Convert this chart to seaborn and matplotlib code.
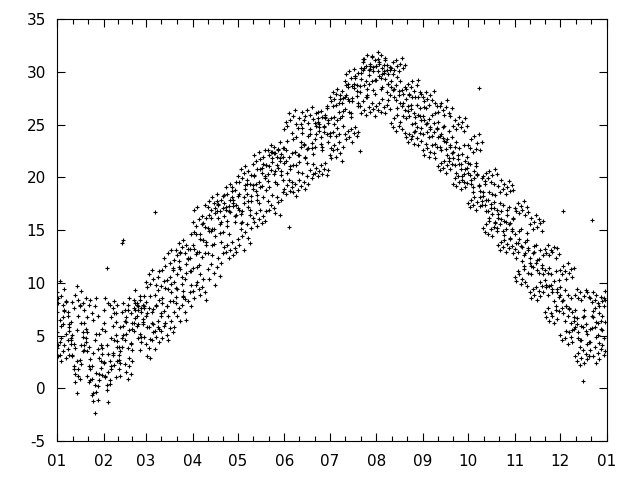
import pandas as pd
import seaborn as sns
import matplotlib.pyplot as plt
import matplotlib.dates as mdates

# daily temperatures, four seasons laid over one calendar year
temps_a = [
    7.2, 8.1, 6.5, 5.9, 6.8, 7.4, 5.2, 4.6, 5.8, 6.3, 5.1, 4.2, 3.8, 5.5, 6.9, 7.8, 6.2, 4.9, 3.6, 4.4,
    5.3, 3.9, 2.8, 2.1, 3.4, 4.6, 5.2, 3.7, 2.9, 4.1, 5.6,
    6.2, 5.4, 4.1, 3.3, 2.6, 4.8, 5.9, 7.1, 6.3, 4.5, 3.2, 2.4, 3.9, 5.1, 4.6, 6.8, 7.4, 5.5, 4.2, 3.6,
    5.4, 6.7, 7.9, 6.1, 5.2, 4.4, 6.6, 7.8,
    6.9, 5.8, 7.6, 8.8, 7.2, 6.1, 5.4, 7.9, 9.3, 8.4, 7.1, 8.6, 10.2, 9.5, 7.8, 6.9, 8.3, 9.9, 11.2, 10.1,
    8.7, 9.4, 11.5, 12.8, 10.6, 9.2, 8.5, 10.9, 12.3, 11.1, 9.8,
    11.4, 13.2, 14.6, 12.9, 11.7, 10.8, 12.5, 14.1, 15.3, 13.6, 12.8, 14.9, 16.2, 15.1, 13.7, 14.4, 16.8, 17.5, 15.6, 13.9,
    14.8, 16.3, 17.2, 15.9, 14.6, 16.7, 18.1, 17.3, 15.8, 16.4,
    17.1, 18.4, 16.5, 15.8, 17.6, 18.9, 19.4, 17.8, 16.9, 18.2, 19.3, 20.1, 18.7, 17.9, 19.6, 20.8, 19.2, 18.1, 19.9, 21.2,
    20.3, 19.1, 20.7, 21.8, 22.3, 20.6, 19.4, 20.9, 21.6, 20.2, 19.8,
    21.4, 22.6, 23.5, 21.9, 20.8, 19.6, 21.2, 22.4, 23.8, 22.1, 21.5, 22.9, 24.2, 23.1, 21.8, 22.7, 23.9, 24.6, 22.8, 21.3,
    22.9, 24.1, 25.3, 24.4, 23.2, 22.6, 24.8, 25.6, 24.1, 23.4,
    24.2, 25.6, 26.8, 25.1, 23.9, 24.7, 26.2, 27.4, 25.8, 24.9, 26.5, 27.8, 28.6, 27.2, 26.1, 27.5, 28.9, 29.4, 27.7, 26.8,
    28.1, 29.3, 30.2, 28.8, 27.6, 28.4, 29.7, 30.6, 29.1, 28.3, 27.9,
    29.2, 30.1, 29.6, 28.4, 29.8, 30.7, 29.3, 28.1, 28.9, 30.2, 29.1, 28.3, 27.6, 28.8, 29.5, 28.2, 27.1, 26.8, 27.9, 28.6,
    27.4, 26.3, 25.8, 26.9, 27.6, 26.1, 25.2, 24.8, 25.9, 26.6, 25.4,
    25.8, 26.7, 25.1, 24.3, 25.5, 24.8, 23.9, 25.2, 26.1, 24.6, 23.8, 22.9, 24.1, 24.8, 23.5, 22.7, 23.6, 24.4, 23.1, 22.3,
    21.8, 22.9, 23.4, 22.1, 21.3, 20.8, 22.2, 23.1, 21.6, 20.9,
    20.4, 21.3, 19.8, 19.1, 20.6, 21.4, 20.2, 19.3, 18.7, 19.9, 18.2, 17.4, 16.8, 17.9, 18.6, 17.1, 16.5, 17.7, 18.3, 16.9,
    16.2, 15.6, 16.8, 17.4, 15.9, 15.1, 16.4, 17.2, 15.7, 14.9, 16.1,
    14.6, 13.8, 12.9, 14.2, 15.1, 13.4, 12.6, 13.9, 14.7, 13.1, 12.4, 11.6, 12.8, 13.5, 11.9, 11.2, 12.3, 13.1, 11.7, 10.8,
    10.3, 9.6, 10.9, 11.4, 9.8, 9.1, 10.2, 11.1, 9.4, 8.7,
    8.9, 7.6, 8.4, 9.3, 7.8, 6.9, 7.5, 8.6, 7.2, 6.4, 5.8, 6.7, 5.3, 4.6, 5.9, 6.8, 7.4, 6.1, 5.2, 4.4,
    5.6, 6.9, 7.3, 5.8, 4.9, 6.2, 7.1, 6.4, 5.5, 4.8, 6.3,
]

temps_b = [
    5.3, 4.1, 3.2, 4.8, 6.1, 7.3, 8.2, 6.9, 5.4, 4.2, 3.1, 1.8, 0.6, -0.4, 1.2, 2.7, 4.1, 5.3, 6.2, 4.8,
    3.5, 2.1, 0.8, -0.6, -1.2, -2.3, -0.3, 0.2, 1.4, 2.6, 3.8,
    2.5, 1.1, -0.2, -1.3, 0.4, 1.8, 3.2, 4.6, 5.1, 3.9, 2.7, 3.5, 4.8, 5.9, 6.4, 5.2, 3.8, 2.9, 4.3, 5.6,
    6.2, 7.4, 5.9, 4.8, 3.6, 4.9, 6.3, 7.6,
    8.2, 7.1, 5.8, 4.7, 6.2, 7.5, 8.9, 7.8, 6.4, 5.6, 6.9, 8.1, 7.3, 6.2, 7.8, 9.4, 10.6, 9.1, 8.3, 7.2,
    9.5, 10.8, 12.1, 11.3, 9.9, 8.7, 10.4, 11.8, 13.2, 12.4, 11.1,
    13.6, 14.8, 12.7, 11.5, 12.9, 14.2, 15.6, 14.1, 12.8, 13.9, 15.2, 16.4, 14.9, 13.6, 15.1, 16.6, 17.8, 16.2, 14.7, 15.8,
    17.1, 18.3, 16.9, 15.4, 16.8, 17.9, 19.1, 17.6, 16.3, 17.4,
    18.2, 16.9, 15.7, 16.8, 18.1, 19.3, 18.4, 17.2, 16.4, 17.8, 18.9, 20.2, 19.4, 18.3, 17.6, 19.1, 20.4, 21.3, 20.1, 18.8,
    19.7, 21.1, 22.4, 21.5, 20.3, 19.6, 21.2, 22.6, 21.8, 20.6, 21.9,
    22.8, 21.6, 20.4, 19.8, 21.1, 22.3, 23.6, 22.4, 21.2, 20.5, 22.1, 23.4, 24.7, 23.2, 21.9, 21.4, 22.8, 24.1, 23.3, 22.2,
    23.6, 24.9, 26.2, 25.1, 23.8, 22.9, 24.3, 25.7, 26.8, 25.2,
    23.9, 22.8, 24.3, 25.7, 26.9, 25.4, 24.1, 25.6, 27.1, 26.3, 27.6, 28.8, 27.4, 26.2, 25.7, 27.2, 28.5, 29.6, 28.2, 27.1,
    28.7, 29.9, 31.2, 30.4, 29.1, 27.8, 28.9, 30.3, 31.5, 30.1, 29.2,
    30.6, 31.9, 30.8, 29.4, 28.6, 29.9, 31.1, 30.2, 28.9, 27.8, 28.6, 29.8, 28.4, 27.3, 26.6, 27.8, 29.1, 28.3, 27.1, 26.4,
    25.6, 26.8, 27.9, 26.5, 25.1, 24.3, 25.7, 26.9, 27.6, 25.8, 24.7,
    24.1, 25.4, 26.6, 25.2, 23.8, 24.6, 25.9, 24.3, 23.2, 24.7, 25.3, 23.9, 22.6, 23.7, 24.9, 23.4, 22.1, 21.6, 22.9, 23.8,
    22.4, 21.2, 20.4, 21.7, 22.8, 21.3, 20.1, 19.6, 20.8, 21.9,
    21.4, 20.2, 19.4, 18.6, 19.9, 21.1, 20.3, 19.2, 18.1, 17.4, 18.6, 19.4, 17.9, 16.8, 16.2, 17.5, 18.4, 17.1, 15.8, 15.2,
    16.5, 17.6, 16.1, 14.9, 14.5, 15.8, 16.9, 15.6, 14.3, 15.1, 16.2,
    13.2, 12.4, 13.8, 14.9, 13.5, 12.1, 11.6, 12.8, 14.1, 13.3, 11.9, 10.8, 11.5, 12.9, 13.6, 12.2, 10.9, 10.1, 11.4, 12.6,
    11.2, 9.8, 8.9, 9.7, 10.8, 9.4, 8.3, 7.8, 9.1, 10.3,
    9.6, 8.3, 7.1, 6.4, 7.8, 8.9, 7.6, 6.2, 5.5, 6.8, 7.4, 6.1, 4.8, 3.9, 4.6, 5.8, 6.9, 5.4, 4.2, 3.1,
    4.4, 5.7, 6.8, 7.6, 6.3, 5.1, 4.3, 5.6, 6.9, 7.8, 8.4,
]

temps_c = [
    9.1, 8.6, 10.2, 8.8, 7.9, 9.4, 8.3, 7.2, 6.1, 4.8, 3.2, 2.1, 1.4, 2.6, 1.8, 0.9, 2.3, 3.5, 4.1, 5.6,
    6.8, 7.9, 8.4, 7.1, 6.5, 7.8, 8.6, 6.9, 5.2, 4.1, 3.3,
    2.4, 1.2, 0.3, 1.6, 0.8, 2.1, 3.4, 2.2, 1.1, 2.6, 3.9, 5.8, 7.2, 8.1, 7.4, 6.3, 7.9, 8.6, 7.1, 6.2,
    8.4, 9.3, 8.1, 7.4, 8.8, 7.6, 6.1, 4.9,
    4.2, 3.1, 3.8, 2.9, 4.6, 5.3, 3.7, 4.9, 5.8, 4.4, 9.7, 11.2, 12.4, 11.6, 10.3, 12.8, 11.9, 13.1, 11.4, 12.2,
    8.1, 6.9, 7.6, 6.4, 7.9, 8.8, 7.2, 6.5, 8.3, 9.1, 7.8,
    15.8, 16.9, 15.4, 17.2, 16.1, 14.6, 16.3, 15.7, 17.4, 16.2, 11.3, 10.4, 11.8, 12.6, 10.9, 9.8, 11.5, 12.4, 10.7, 11.9,
    18.2, 17.6, 19.1, 18.4, 17.3, 19.4, 18.7, 17.9, 18.8, 19.6,
    14.2, 13.6, 15.1, 14.4, 13.1, 14.8, 15.6, 14.3, 13.8, 15.2, 21.3, 22.1, 21.6, 20.8, 22.4, 21.7, 20.9, 21.9, 22.6, 21.2,
    17.8, 16.9, 17.4, 18.3, 17.1, 16.6, 18.1, 17.7, 16.4, 17.9, 18.6,
    24.6, 25.3, 24.9, 26.1, 25.4, 24.2, 25.8, 26.4, 25.1, 24.7, 19.8, 19.2, 20.4, 19.6, 18.9, 20.1, 19.4, 20.7, 19.9, 20.3,
    25.2, 26.1, 25.6, 24.8, 26.3, 25.7, 24.9, 25.9, 26.6, 25.4,
    22.1, 21.8, 22.6, 23.1, 21.9, 22.7, 23.4, 22.3, 21.6, 22.9, 29.1, 29.8, 28.9, 30.1, 29.4, 28.7, 30.3, 29.6, 28.8, 29.9,
    26.8, 26.1, 27.2, 26.4, 25.9, 27.6, 26.7, 26.2, 27.1, 26.5, 25.8,
    30.6, 31.2, 30.9, 31.6, 30.4, 30.1, 31.3, 30.7, 29.8, 30.5, 25.2, 24.8, 25.6, 24.4, 25.9, 24.9, 25.3, 24.6, 25.8, 24.2,
    28.4, 28.9, 27.8, 28.6, 29.1, 28.2, 27.6, 28.8, 29.2, 28.1, 27.9,
    22.6, 22.1, 23.2, 22.8, 21.9, 22.4, 23.1, 22.3, 21.8, 22.9, 26.2, 26.8, 27.1, 26.4, 25.9, 26.7, 27.3, 26.1, 25.8, 26.6,
    19.4, 19.9, 19.2, 20.1, 19.6, 18.9, 19.8, 20.3, 19.1, 19.5,
    23.1, 22.8, 23.6, 22.4, 23.9, 22.7, 23.3, 24.1, 22.6, 23.4, 15.2, 14.8, 15.6, 14.6, 15.9, 15.1, 14.4, 15.3, 15.7, 14.9,
    19.2, 18.6, 19.8, 18.9, 19.4, 18.4, 19.1, 19.7, 18.7, 19.3, 18.8,
    10.6, 10.2, 11.1, 10.8, 9.9, 10.4, 11.3, 10.1, 9.7, 10.9, 15.6, 16.2, 15.1, 15.8, 16.4, 15.3, 16.1, 15.7, 14.9, 15.9,
    7.2, 6.8, 7.6, 6.4, 7.1, 6.9, 6.2, 7.4, 6.6, 7.3,
    11.2, 10.8, 11.6, 11.1, 10.4, 11.9, 10.9, 11.3, 10.6, 11.4, 3.1, 2.6, 3.4, 2.2, 2.9, 3.6, 2.4, 3.3, 2.8, 3.1,
    8.6, 8.2, 9.1, 8.4, 8.9, 8.1, 7.8, 8.7, 8.3, 8.6, 9.2,
]

temps_d = [
    3.8, 3.1, 4.4, 2.6, 3.5, 4.1, 2.9, 3.7, 3.2, 4.6, 8.2, 7.6, 8.9, 9.7, 8.4, 7.9, 9.2, 8.1, 7.4, 8.6,
    1.2, 0.6, 1.8, 0.9, -0.4, 0.3, 1.5, -1.1, 0.8, 1.9, 1.3,
    7.4, 8.6, 11.4, 8.1, 7.9, 6.8, 7.6, 8.3, 7.1, 7.9, 1.8, 1.2, 13.8, 14.1, 2.3, 1.6, 0.9, 2.1, 1.4, 2.6,
    7.6, 8.1, 6.9, 7.8, 8.4, 7.2, 7.9, 8.8,
    10.1, 9.6, 10.8, 9.9, 11.2, 10.4, 16.7, 9.8, 10.6, 11.1, 5.4, 4.8, 5.9, 6.2, 5.1, 4.6, 5.7, 6.4, 5.3, 5.8,
    13.1, 12.6, 13.8, 12.9, 13.4, 14.1, 12.8, 13.6, 12.4, 13.2, 14.6,
    9.2, 8.6, 9.8, 10.1, 9.4, 8.9, 9.6, 10.4, 9.1, 8.4, 17.2, 17.8, 16.9, 18.1, 17.6, 17.1, 18.4, 17.4, 16.8, 17.9,
    12.8, 13.4, 12.9, 13.6, 12.4, 13.1, 13.9, 12.6, 13.3, 12.9,
    20.1, 19.6, 20.8, 19.9, 20.4, 21.1, 19.8, 20.6, 19.4, 20.2, 16.2, 15.8, 16.6, 15.4, 16.1, 16.9, 15.7, 16.3, 15.9, 16.8,
    22.6, 22.1, 23.1, 22.4, 22.9, 22.3, 21.9, 22.7, 23.4, 22.2, 22.8,
    18.9, 18.4, 19.3, 15.3, 18.7, 19.1, 18.6, 19.4, 18.2, 18.8, 25.6, 25.1, 26.2, 25.4, 25.8, 26.4, 25.2, 25.9, 26.7, 25.5,
    20.4, 20.9, 20.1, 20.6, 21.2, 20.3, 20.8, 21.4, 20.2, 20.7,
    27.6, 27.2, 28.1, 27.4, 27.9, 28.4, 27.1, 27.8, 28.2, 27.5, 24.1, 23.6, 24.4, 23.8, 24.6, 23.4, 24.2, 24.8, 23.9, 24.3,
    22.5, 30.4, 30.9, 31.2, 30.6, 31.6, 30.2, 30.8, 31.4, 30.5, 31.1,
    26.8, 26.4, 27.1, 26.2, 27.4, 26.7, 26.1, 26.9, 27.3, 26.5, 30.4, 30.9, 30.2, 31.1, 30.6, 30.1, 30.8, 31.3, 30.4, 30.7,
    23.8, 23.4, 24.1, 23.6, 23.9, 23.2, 24.4, 23.7, 23.1, 24.2, 23.5,
    27.6, 27.2, 28.1, 27.4, 26.9, 27.8, 27.3, 28.2, 27.1, 26.8, 21.1, 20.7, 21.4, 20.9, 21.6, 20.4, 21.2, 21.8, 20.8, 21.3,
    24.9, 25.4, 24.6, 25.1, 25.7, 24.8, 25.3, 24.4, 25.6, 24.9,
    17.6, 17.2, 17.9, 17.4, 18.1, 16.9, 17.7, 28.5, 17.3, 17.8, 20.1, 19.7, 20.4, 19.9, 20.6, 19.6, 20.2, 19.4, 20.8, 20.3,
    13.6, 13.1, 13.9, 13.4, 14.1, 12.9, 13.7, 13.3, 14.2, 13.5, 12.8,
    17.1, 16.8, 17.6, 16.6, 17.3, 16.9, 17.8, 16.4, 17.2, 16.7, 9.1, 8.6, 9.4, 8.9, 9.6, 8.4, 9.2, 8.8, 9.7, 9.1,
    13.2, 12.8, 13.6, 12.6, 13.1, 12.9, 13.4, 12.4, 13.3, 12.7,
    5.1, 4.6, 16.8, 4.8, 5.4, 4.2, 5.3, 4.9, 4.4, 5.6, 8.9, 9.4, 8.6, 9.1, 8.4, 0.7, 8.8, 9.3, 9.1, 8.7,
    3.6, 16.0, 3.1, 3.9, 2.4, 3.4, 2.8, 3.7, 4.1, 3.2, 3.5,
]

y_ticks = [-5, 0, 5, 10, 15, 20, 25, 30, 35]

frames = []
for vals in [temps_a, temps_b, temps_c, temps_d]:
    days = pd.date_range('2001-01-01', periods=len(vals), freq='D')
    frames.append(pd.DataFrame({'date': days, 'temp': vals}))
df = pd.concat(frames, ignore_index=True)

sns.set_style('ticks')
plt.rcParams['font.family'] = ['DejaVu Sans']
plt.rcParams['axes.unicode_minus'] = False

fig = plt.figure(figsize=(6.4, 4.8), dpi=100)
ax = fig.add_axes([0.089, 0.081, 0.859, 0.879])
sns.scatterplot(data=df, x='date', y='temp', marker='+', color='black',
                s=7, linewidth=0.8, ax=ax)

month_starts = pd.date_range('2001-01-01', '2002-01-01', freq='MS')
ax.set_xlim(month_starts[0], month_starts[-1])
ax.set_ylim(-5, 35)
ax.set_yticks(y_ticks)
ax.set_xticks(month_starts)
ax.xaxis.set_major_formatter(mdates.DateFormatter('%m'))
nums = mdates.date2num(month_starts)
minor = [a + (b - a) * k / 3 for a, b in zip(nums[:-1], nums[1:]) for k in (1, 2)]
ax.set_xticks(minor, minor=True)

ax.tick_params(which='both', direction='in', top=True, right=True,
               width=0.8, color='black', labelsize=11, labelcolor='black')
ax.tick_params(which='major', length=5.5)
ax.tick_params(which='minor', length=3.3)
ax.tick_params(axis='x', pad=9)
ax.tick_params(axis='y', pad=8)
for sp in ax.spines.values():
    sp.set_color('black')
    sp.set_linewidth(0.8)
ax.set_xlabel('')
ax.set_ylabel('')

plt.savefig('out.png', dpi=100)
